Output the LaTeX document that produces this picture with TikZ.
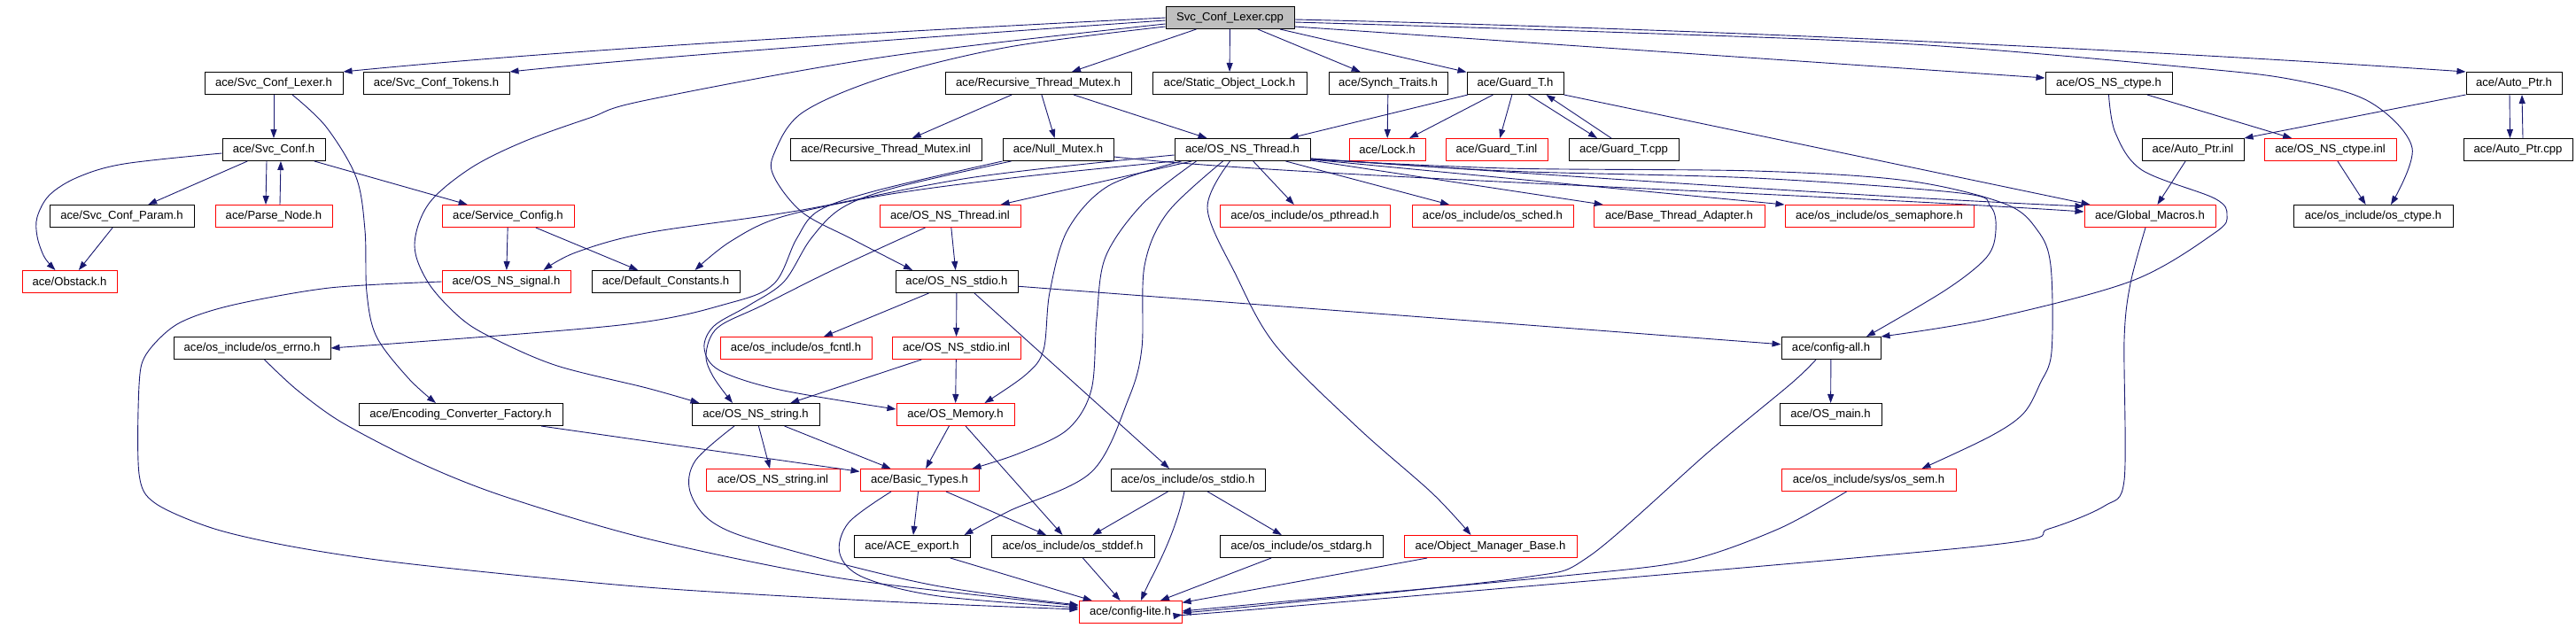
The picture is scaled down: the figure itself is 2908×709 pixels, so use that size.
\documentclass[tikz,border=0pt]{standalone}
\usepackage{fontspec}
\setmainfont{Liberation Sans}
\usetikzlibrary{arrows.meta}
\definecolor{edgecol}{HTML}{191970}
\definecolor{rootgray}{HTML}{BFBFBF}
\newcommand\nodefont{\fontsize{13.1}{15}\selectfont}
\tikzset{
  box/.style={draw=black, line width=1pt, rectangle, minimum height=25pt, inner sep=0pt, font=\nodefont, text=black},
  rbox/.style={box, draw=red},
  rootbox/.style={box, fill=rootgray},
  edge/.style={draw=edgecol, line width=0.9pt, -{Triangle[length=10pt,width=7pt]}},
}
\begin{document}
\begin{tikzpicture}[x=1pt,y=-1pt]
\useasboundingbox (0,0) rectangle (2908,709);
% row 1
\node[rootbox, minimum width=145pt] (root) at (1388.5,20) {Svc\_Conf\_Lexer.cpp};
% row 2
\node[box, minimum width=156pt] (lexh) at (309,94) {ace/Svc\_Conf\_Lexer.h};
\node[box, minimum width=165pt] (tok) at (492.5,94) {ace/Svc\_Conf\_Tokens.h};
\node[box, minimum width=210pt] (rtmh) at (1172,94) {ace/Recursive\_Thread\_Mutex.h};
\node[box, minimum width=174pt] (sol) at (1388,94) {ace/Static\_Object\_Lock.h};
\node[box, minimum width=134pt] (synch) at (1567,94) {ace/Synch\_Traits.h};
\node[box, minimum width=109pt] (gth) at (1710.5,94) {ace/Guard\_T.h};
\node[box, minimum width=143pt] (ctypeh) at (2380.5,94) {ace/OS\_NS\_ctype.h};
\node[box, minimum width=108pt] (aph) at (2838,94) {ace/Auto\_Ptr.h};
% row 3
\node[box, minimum width=116pt] (conf) at (309,169) {ace/Svc\_Conf.h};
\node[box, minimum width=216pt] (rtminl) at (1000,169) {ace/Recursive\_Thread\_Mutex.inl};
\node[box, minimum width=125pt] (null) at (1194.5,169) {ace/Null\_Mutex.h};
\node[box, minimum width=153pt] (thr) at (1402.5,169) {ace/OS\_NS\_Thread.h};
\node[rbox, minimum width=86pt] (lock) at (1566,169) {ace/Lock.h};
\node[rbox, minimum width=115pt] (gtinl) at (1689.5,169) {ace/Guard\_T.inl};
\node[box, minimum width=124pt] (gtcpp) at (1833,169) {ace/Guard\_T.cpp};
\node[box, minimum width=115pt] (apinl) at (2475.5,169) {ace/Auto\_Ptr.inl};
\node[rbox, minimum width=149pt] (ctypeinl) at (2630.5,169) {ace/OS\_NS\_ctype.inl};
\node[box, minimum width=123pt] (apcpp) at (2842.5,169) {ace/Auto\_Ptr.cpp};
% row 4
\node[box, minimum width=163pt] (param) at (137.5,244) {ace/Svc\_Conf\_Param.h};
\node[rbox, minimum width=132pt] (parse) at (309,244) {ace/Parse\_Node.h};
\node[rbox, minimum width=149pt] (svccfg) at (573.5,244) {ace/Service\_Config.h};
\node[rbox, minimum width=159pt] (thrinl) at (1072.5,244) {ace/OS\_NS\_Thread.inl};
\node[rbox, minimum width=192pt] (pthread) at (1473,244) {ace/os\_include/os\_pthread.h};
\node[rbox, minimum width=182pt] (sched) at (1685,244) {ace/os\_include/os\_sched.h};
\node[rbox, minimum width=193pt] (bta) at (1895.5,244) {ace/Base\_Thread\_Adapter.h};
\node[rbox, minimum width=213pt] (sema) at (2121.5,244) {ace/os\_include/os\_semaphore.h};
\node[rbox, minimum width=148pt] (gm) at (2427,244) {ace/Global\_Macros.h};
\node[box, minimum width=180pt] (osctype) at (2679,244) {ace/os\_include/os\_ctype.h};
% row 5
\node[rbox, minimum width=107pt] (obstack) at (78.5,318) {ace/Obstack.h};
\node[rbox, minimum width=145pt] (signal) at (571.5,318) {ace/OS\_NS\_signal.h};
\node[box, minimum width=167pt] (defc) at (751.5,318) {ace/Default\_Constants.h};
\node[box, minimum width=138pt] (stdioh) at (1080,318) {ace/OS\_NS\_stdio.h};
% row 6
\node[box, minimum width=177pt] (errno) at (284.5,393) {ace/os\_include/os\_errno.h};
\node[rbox, minimum width=171pt] (fcntl) at (898.5,393) {ace/os\_include/os\_fcntl.h};
\node[rbox, minimum width=145pt] (stdioinl) at (1079.5,393) {ace/OS\_NS\_stdio.inl};
\node[box, minimum width=112pt] (cfgall) at (2067,393) {ace/config-all.h};
% row 7
\node[box, minimum width=230pt] (ecf) at (520,468) {ace/Encoding\_Converter\_Factory.h};
\node[box, minimum width=144pt] (strh) at (853,468) {ace/OS\_NS\_string.h};
\node[rbox, minimum width=133pt] (mem) at (1078.5,468) {ace/OS\_Memory.h};
\node[box, minimum width=115pt] (osmain) at (2066.5,468) {ace/OS\_main.h};
% row 8
\node[rbox, minimum width=151pt] (strinl) at (872.5,542) {ace/OS\_NS\_string.inl};
\node[rbox, minimum width=134pt] (basic) at (1038,542) {ace/Basic\_Types.h};
\node[box, minimum width=174pt] (osstdio) at (1341,542) {ace/os\_include/os\_stdio.h};
\node[rbox, minimum width=197pt] (sem) at (2109.5,542) {ace/os\_include/sys/os\_sem.h};
% row 9
\node[box, minimum width=131pt] (export) at (1029.5,617) {ace/ACE\_export.h};
\node[box, minimum width=184pt] (stddef) at (1211,617) {ace/os\_include/os\_stddef.h};
\node[box, minimum width=184pt] (stdarg) at (1469,617) {ace/os\_include/os\_stdarg.h};
\node[rbox, minimum width=195pt] (omb) at (1682.5,617) {ace/Object\_Manager\_Base.h};
% row 10
\node[rbox, minimum width=116pt] (lite) at (1276,691) {ace/config-lite.h};

% ---- edges from root
\draw[edge] (root.west) .. controls (1000,36) and (650,55) .. (lexh.north east);
\draw[edge] ([yshift=-3pt]root.west) .. controls (1000,45) and (720,66) .. (tok.north east);
\draw[edge] plot[smooth,tension=0.55] coordinates {([yshift=-7pt]root.west) (1000,64) (730,113) (666,133) (591,160) (531,190) (484,230) (468,277) (484,320) (521,360) (559,383) (629,413) (730,438) ([xshift=9pt]strh.north west)};
\draw[edge] plot[smooth,tension=0.55] coordinates {([yshift=-10pt]root.west) (1139,53) (999,87) (906,127) (874,173) (874,200) (906,240) (962,270) ([xshift=-50pt]stdioh.north)};
\draw[edge] (root) -- (rtmh);
\draw[edge] (root) -- (sol);
\draw[edge] (root) -- (synch);
\draw[edge] (root) -- (gth);
\draw[edge] ([yshift=-10pt]root.east) -- ([yshift=6pt]ctypeh.west);
\draw[edge] ([yshift=-2pt]root.east) .. controls (1900,32) and (2400,55) .. (aph.north west);
\draw[edge] plot[smooth,tension=0.55] coordinates {([yshift=-5pt]root.east) (1812,36) (2160,50) (2470,76) (2589,90) (2675,115) (2723,167) ([xshift=20pt]osctype.north)};

% ---- Svc_Conf_Lexer.h / Svc_Conf.h
\draw[edge] (lexh) -- (conf);
\draw[edge] plot[smooth,tension=0.55] coordinates {([xshift=21pt]lexh.south) (368,143) (402,200) (412,260) (414,330) (425,380) (461,427) ([xshift=-28pt]ecf.north)};
\draw[edge] plot[smooth,tension=0.55] coordinates {([yshift=-4pt]conf.west) (140,185) (88,200) (56,220) (42,245) (42,267) (50,290) ([xshift=-16pt]obstack.north)};
\draw[edge] (conf) -- (param);
\draw[edge] ([xshift=-8pt]conf.south) -- ([xshift=-9pt]parse.north);
\draw[edge] ([xshift=7pt]parse.north) -- ([xshift=8pt]conf.south);
\draw[edge] (conf) -- (svccfg);
\draw[edge] (param) -- (obstack);
\draw[edge] (svccfg) -- (signal);
\draw[edge] (svccfg) -- (defc);
\draw[edge] plot[smooth,tension=0.5] coordinates {(signal.west) (372,325) (260,345) (200,366) (165,400) (157,435) (157,535) (175,568) (242,597) (335,618) (466,637) (730,663) (1000,679) ([yshift=3pt]lite.west)};
\draw[edge] plot[smooth,tension=0.5] coordinates {([xshift=14pt]errno.south) (335,440) (386,477) (475,523) (568,560) (730,608) (950,653) ([yshift=7pt]lite.west)};
\draw[edge] (ecf) -- (basic);

% ---- Recursive_Thread_Mutex, Synch, Guard
\draw[edge] (rtmh) -- (rtminl);
\draw[edge] (rtmh) -- (null);
\draw[edge] (rtmh) -- (thr);
\draw[edge] (synch) -- (lock);
\draw[edge] (gth) -- (thr);
\draw[edge] (gth) -- (lock);
\draw[edge] (gth) -- (gtinl);
\draw[edge] ([xshift=15pt]gth.south) -- ([xshift=-30pt]gtcpp.north);
\draw[edge] ([xshift=-14pt]gtcpp.north) -- ([xshift=35pt]gth.south);
\draw[edge] (gth.south east) -- ([xshift=7pt]gm.north west);

% ---- Auto_Ptr, ctype
\draw[edge] (aph.south west) -- (apinl.north east);
\draw[edge] ([xshift=-5pt]aph.south) -- ([xshift=-9pt]apcpp.north);
\draw[edge] ([xshift=5.5pt]apcpp.north) -- ([xshift=9pt]aph.south);
\draw[edge] (apinl) -- (gm);
\draw[edge] (ctypeh) -- (ctypeinl);
\draw[edge] plot[smooth,tension=0.55] coordinates {(ctypeh.south) (2388,150) (2418,192) (2500,224) (2514,243) (2500,263) (2407,317) (2246,360) (cfgall.north east)};
\draw[edge] (ctypeinl) -- (osctype);

% ---- OS_NS_Thread.h
\draw[edge] (thr) -- (thrinl);
\draw[edge] plot[smooth,tension=0.55] coordinates {(thr.south west) (1150,200) (1000,220) (882,245) (824,273) ([xshift=33pt]defc.north)};
\draw[edge] plot[smooth,tension=0.55] coordinates {([yshift=-6pt]thr.west) (1100,200) (900,238) (730,263) (650,285) ([xshift=42pt]signal.north)};
\draw[edge] plot[smooth,tension=0.55] coordinates {([xshift=8pt]thr.south west) (1251,210) (1205,260) (1185,330) (1178,395) (1158,423) ([xshift=33pt]mem.north)};
\draw[edge] plot[smooth,tension=0.55] coordinates {([xshift=25pt]thr.south west) (1290,230) (1248,290) (1238,360) (1232,440) (1205,485) (1150,512) ([xshift=-8pt]basic.north east)};
\draw[edge] plot[smooth,tension=0.55] coordinates {([xshift=-22pt]thr.south) (1318,240) (1292,300) (1289,393) (1274,450) (1232,533) (1139,577) ([xshift=-7pt]export.north east)};
\draw[edge] plot[smooth,tension=0.55] coordinates {([xshift=-14pt]thr.south) (1363,235) (1395,310) (1440,390) (1533,483) (1617,557) ([xshift=-22pt]omb.north)};
\draw[edge] (thr) -- (pthread);
\draw[edge] (thr) -- (sched);
\draw[edge] ([yshift=1pt]thr.south east) -- (bta);
\draw[edge] ([yshift=2pt]thr.south east) -- (sema.north west);
\draw[edge] ([yshift=3pt]thr.south east) .. controls (1700,194) and (2100,222) .. ([yshift=11pt]gm.west);
\draw[edge] plot[smooth,tension=0.55] coordinates {([yshift=3pt]thr.south east) (1700,193) (1980,201) (2213,218) (2247,233) (2253,260) (2243,290) (2197,327) ([xshift=40pt]cfgall.north)};
\draw[edge] plot[smooth,tension=0.55] coordinates {([yshift=2pt]thr.south east) (1700,190) (1980,193) (2153,204) (2263,230) (2300,260) (2315,300) (2316,397) (2303,433) (2284,467) (2246,493) ([xshift=60pt]sem.north)};

% ---- Null_Mutex.h
\draw[edge] ([yshift=-8pt]null.east) .. controls (1450,199) and (2000,216) .. ([yshift=5pt]gm.west);
\draw[edge] plot[smooth,tension=0.55] coordinates {(null.south west) (990,215) (924,238) (899,270) (874,320) (824,342) (700,367) (errno.east)};
\draw[edge] plot[smooth,tension=0.55] coordinates {([xshift=10pt]null.south west) (1010,212) (950,235) (915,270) (885,318) (845,345) (806,368) (795,393) (812,418) (880,440) ([yshift=6pt]mem.west)};

% ---- OS_NS_Thread.inl
\draw[edge] plot[smooth,tension=0.55] coordinates {([xshift=-28pt]thrinl.south) (940,305) (860,345) (810,370) (797,400) (805,425) ([xshift=-26pt]strh.north)};
\draw[edge] (thrinl) -- (stdioh);

% ---- OS_NS_stdio.h / .inl
\draw[edge] (stdioh) -- (fcntl);
\draw[edge] (stdioh) -- (stdioinl);
\draw[edge] ([xshift=20pt]stdioh.south) -- ([xshift=-21pt]osstdio.north);
\draw[edge] (stdioh) -- (cfgall);
\draw[edge] (stdioinl) -- (strh);
\draw[edge] (stdioinl) -- (mem);

% ---- OS_NS_string.h, OS_Memory.h, Basic_Types.h
\draw[edge] (strh) -- (strinl);
\draw[edge] (strh) -- (basic);
\draw[edge] plot[smooth,tension=0.55] coordinates {([xshift=-24pt]strh.south) (785,520) (779,555) (805,590) (870,615) (1050,660) ([yshift=8pt]lite.west)};
\draw[edge] (mem) -- (basic);
\draw[edge] (mem) -- (stddef);
\draw[edge] (basic) -- (export);
\draw[edge] (basic) -- (stddef);
\draw[edge] plot[smooth,tension=0.55] coordinates {([xshift=-32pt]basic.south) (958,590) (948,625) (975,652) (1060,673) ([yshift=5pt]lite.west)};

% ---- os_stdio.h and row 9
\draw[edge] (osstdio) -- (stddef);
\draw[edge] ([xshift=-4pt]osstdio.south) .. controls (1325,610) and (1300,650) .. ([xshift=12pt]lite.north);
\draw[edge] (osstdio) -- (stdarg);
\draw[edge] (export) -- (lite);
\draw[edge] (stddef) -- (lite);
\draw[edge] (stdarg) -- (lite);
\draw[edge] (omb) -- (lite);

% ---- right side into config-lite
\draw[edge] (cfgall) -- (osmain);
\draw[edge] plot[smooth,tension=0.5] coordinates {([xshift=-17pt]cfgall.south) (2022,433) (1929,510) (1794,628) (1720,652) (1440,682) ([yshift=-1pt]lite.east)};
\draw[edge] plot[smooth,tension=0.5] coordinates {([xshift=-25pt]sem.south) (2008,597) (1905,633) (1766,650) (1440,680) ([yshift=1pt]lite.east)};
\draw[edge] plot[smooth,tension=0.5] coordinates {([xshift=-5pt]gm.south) (2405,320) (2398,383) (2398,542) (2376,571) (2313,597) (2222,618) (1440,686) ([yshift=-3pt]lite.east)};
\end{tikzpicture}
\end{document}
